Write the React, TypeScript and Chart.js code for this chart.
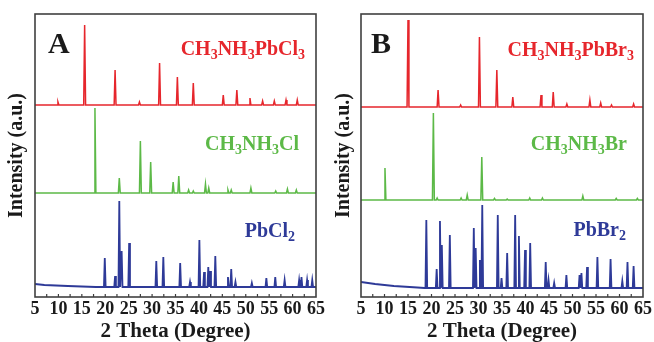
import React, { useEffect, useRef } from "react";
import { Chart, registerables } from "chart.js";
Chart.register(...registerables);

// ---------- data ----------
const X_MIN = 5;
const X_MAX = 65;
const X_STEP = 2.5;
const xTickLabels = ["5", "10", "15", "20", "25", "30", "35", "40", "45", "50", "55", "60", "65"];
const Y_MAX = 283;

// Panel A: [2theta, relative intensity]
const peaksA_MAPbCl3: [number, number][] = [
  [9.9, 3], [15.6, 80], [22.1, 35], [27.3, 3], [31.6, 42], [35.4, 28], [38.8, 22],
  [45.2, 10], [48.1, 15], [50.9, 7], [53.6, 4], [56.1, 4], [58.6, 5], [61.0, 5],
];
const peaksA_MACl: [number, number][] = [
  [17.8, 85], [23.0, 15], [27.5, 52], [29.7, 31], [34.5, 11], [35.7, 17], [37.8, 3],
  [38.8, 2], [41.4, 9], [42.1, 5], [46.2, 3], [46.9, 3], [51.1, 5], [56.4, 2], [58.9, 4], [60.8, 3],
];
const peaksA_PbCl2: [number, number][] = [
  [19.9, 29], [22.1, 11], [23.0, 86], [23.5, 36], [25.1, 44], [30.9, 26], [32.4, 30],
  [36.0, 24], [38.1, 5], [40.1, 47], [41.1, 15], [42.0, 20], [42.4, 16], [43.5, 31],
  [46.2, 10], [46.9, 18], [47.8, 5], [51.3, 4], [54.4, 9], [56.3, 10], [58.3, 7],
  [61.4, 7], [61.9, 10], [63.1, 7], [64.2, 7],
];
const backgroundA_PbCl2: [number, number][] = [[5, 3], [7, 2], [12, 1], [18, 0]];

// Panel B
const peaksB_MAPbBr3: [number, number][] = [
  [15.0, 87], [21.4, 17], [26.2, 2], [30.2, 70], [33.9, 37], [37.3, 10], [43.3, 12],
  [45.9, 15], [48.8, 3], [53.7, 7], [56.0, 4], [58.3, 2], [63.0, 3],
];
const peaksB_MABr: [number, number][] = [
  [10.1, 32], [20.4, 87], [21.2, 2], [26.3, 2], [27.6, 5], [30.7, 43], [33.4, 1.5],
  [36.1, 1], [40.9, 2], [43.6, 2], [52.2, 4], [59.3, 1.5], [63.8, 1.5],
];
const peaksB_PbBr2: [number, number][] = [
  [18.9, 68], [21.1, 19], [21.8, 67], [22.2, 43], [23.9, 53], [29.0, 60], [29.4, 40],
  [30.3, 28], [30.8, 83], [34.1, 73], [34.9, 10], [36.1, 35], [37.8, 73], [38.6, 52],
  [39.9, 38], [41.0, 45], [44.3, 26], [44.9, 8], [46.1, 5], [48.7, 13], [51.5, 13],
  [51.9, 15], [53.1, 21], [55.3, 31], [58.1, 29], [60.6, 7], [61.7, 26], [63.0, 22],
];
const backgroundB_PbBr2: [number, number][] = [[5, 6], [8, 4], [12, 2], [17, 0.5], [18.5, 0]];

// stacking offsets
const offsetsA = [192, 104, 10];
const offsetsB = [190, 97, 9];

const namesA = ["CH3NH3PbCl3", "CH3NH3Cl", "PbCl2"];
const namesB = ["CH3NH3PbBr3", "CH3NH3Br", "PbBr2"];

const RED = "#e6262c";
const GREEN = "#5cb947";
const BLUE = "#2e3a98";
const SERIF = '"Liberation Serif", "Times New Roman", serif';

function buildProfile(peaks: [number, number][], offset: number, bg: [number, number][], w: number) {
  const pts: { x: number; y: number }[] = [];
  if (bg.length) bg.forEach(([x, y]) => pts.push({ x, y: offset + y }));
  else pts.push({ x: X_MIN, y: offset });
  peaks.forEach(([p, h]) => {
    pts.push({ x: p - w, y: offset }, { x: p, y: offset + h }, { x: p + w, y: offset });
  });
  pts.push({ x: X_MAX, y: offset });
  return pts;
}

function drawFormula(ctx: CanvasRenderingContext2D, text: string, rightX: number, baseline: number, color: string, size: number) {
  const segs = text.match(/[A-Za-z]+|\d+/g) || [];
  const main = `bold ${size}px ${SERIF}`;
  const sub = `bold ${Math.round(size * 0.68)}px ${SERIF}`;
  const widths = segs.map((s) => {
    ctx.font = /\d/.test(s) ? sub : main;
    return ctx.measureText(s).width;
  });
  let x = rightX - widths.reduce((a, b) => a + b, 0);
  ctx.fillStyle = color;
  ctx.textBaseline = "alphabetic";
  ctx.textAlign = "left";
  segs.forEach((s, i) => {
    const isSub = /\d/.test(s);
    ctx.font = isSub ? sub : main;
    ctx.fillText(s, x, baseline + (isSub ? size * 0.2 : 0));
    x += widths[i];
  });
}

type PanelCfg = {
  letter: string;
  letterDx: number;
  names: string[];
  labelPos: [number, number][]; // [distance from right edge, baseline y]
  series: { x: number; y: number }[][];
  yAxisWidth: number;
  padRight: number;
};

function Panel({ cfg, left }: { cfg: PanelCfg; left: number }) {
  const ref = useRef<HTMLCanvasElement>(null);
  useEffect(() => {
    if (!ref.current) return;
    const colors = [RED, GREEN, BLUE];
    const decor = {
      id: "decor",
      afterDatasetsDraw(chart: any) {
        const { ctx, chartArea: a } = chart;
        const xs = chart.scales.x;
        ctx.save();
        // inward ticks
        ctx.strokeStyle = "#3c3c3c";
        ctx.lineWidth = 1.2;
        for (let v = X_MIN + X_STEP; v < X_MAX; v += X_STEP) {
          const px = xs.getPixelForValue(v);
          ctx.beginPath();
          ctx.moveTo(px, a.bottom);
          ctx.lineTo(px, a.bottom - 3);
          ctx.stroke();
        }
        // frame
        ctx.lineWidth = 1.6;
        ctx.strokeStyle = "#404040";
        ctx.strokeRect(a.left, a.top, a.right - a.left, a.bottom - a.top);
        // panel letter
        ctx.fillStyle = "#1a1a1a";
        ctx.font = `bold 30px ${SERIF}`;
        ctx.textBaseline = "alphabetic";
        ctx.textAlign = "left";
        ctx.fillText(cfg.letter, a.left + cfg.letterDx, 53);
        // series labels
        cfg.names.forEach((n, i) => {
          const [dr, by] = cfg.labelPos[i];
          drawFormula(ctx, n, a.right - dr, by, colors[i], 20);
        });
        ctx.restore();
      },
    };
    const chart = new Chart(ref.current, {
      type: "line",
      data: {
        datasets: cfg.series.map((s, i) => ({
          label: cfg.names[i],
          data: s,
          borderColor: colors[i],
          borderWidth: i === 2 ? 1.8 : 1.5,
          pointRadius: 0,
          tension: 0,
          fill: false,
        })),
      },
      options: {
        animation: false,
        responsive: false,
        layout: { padding: { top: 14, right: cfg.padRight, left: 0, bottom: 0 } },
        plugins: { legend: { display: false }, tooltip: { enabled: false } },
        scales: {
          x: {
            type: "linear",
            min: X_MIN,
            max: X_MAX,
            grid: { display: false, drawTicks: false },
            border: { display: false },
            ticks: {
              stepSize: X_STEP,
              autoSkip: false,
              maxRotation: 0,
              padding: 2,
              color: "#1a1a1a",
              font: { family: SERIF, size: 18, weight: "bold" },
              callback: (v: any) => {
                const s = String(v);
                return xTickLabels.includes(s) ? s : "";
              },
            },
            title: {
              display: true,
              text: "2 Theta (Degree)",
              color: "#1a1a1a",
              font: { family: SERIF, size: 21, weight: "bold", lineHeight: 1 },
              padding: { top: 0, bottom: 0 },
            },
            afterFit: (s: any) => {
              s.height = 45;
            },
          },
          y: {
            min: 0,
            max: Y_MAX,
            grid: { display: false, drawTicks: false },
            border: { display: false },
            ticks: { display: false },
            title: {
              display: true,
              text: "Intensity (a.u.)",
              color: "#1a1a1a",
              font: { family: SERIF, size: 20, weight: "bold", lineHeight: 1.2 },
              padding: { top: 5, bottom: 0 },
            },
            afterFit: (s: any) => {
              s.width = cfg.yAxisWidth;
            },
          },
        },
      } as any,
      plugins: [decor],
    });
    return () => chart.destroy();
  }, [cfg]);
  return (
    <div style={{ position: "absolute", left, top: 0, width: 327, height: 342 }}>
      <canvas ref={ref} width={327} height={342} />
    </div>
  );
}

const cfgA: PanelCfg = {
  letter: "A",
  letterDx: 13,
  names: namesA,
  labelPos: [[11, 55], [17, 150], [21, 237]],
  series: [
    buildProfile(peaksA_MAPbCl3, offsetsA[0], [], 0.2),
    buildProfile(peaksA_MACl, offsetsA[1], [], 0.2),
    buildProfile(peaksA_PbCl2, offsetsA[2], backgroundA_PbCl2, 0.18),
  ],
  yAxisWidth: 35,
  padRight: 8,
};

const cfgB: PanelCfg = {
  letter: "B",
  letterDx: 10,
  names: namesB,
  labelPos: [[9, 56], [16, 150], [17, 236]],
  series: [
    buildProfile(peaksB_MAPbBr3, offsetsB[0], [], 0.2),
    buildProfile(peaksB_MABr, offsetsB[1], [], 0.2),
    buildProfile(peaksB_PbBr2, offsetsB[2], backgroundB_PbBr2, 0.18),
  ],
  yAxisWidth: 34,
  padRight: 11,
};

export default function App() {
  return (
    <div style={{ position: "fixed", left: 0, top: 0, width: 654, height: 342, background: "#fff" }}>
      <Panel cfg={cfgA} left={0} />
      <Panel cfg={cfgB} left={327} />
    </div>
  );
}
